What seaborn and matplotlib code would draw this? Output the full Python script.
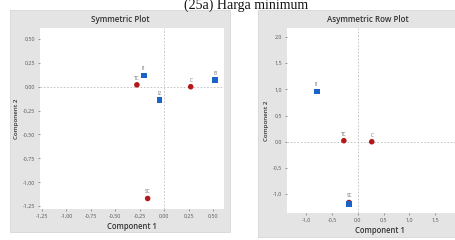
import matplotlib
matplotlib.use("Agg")
import matplotlib.pyplot as plt
import matplotlib.ticker as mticker
from matplotlib.patches import Rectangle
import seaborn as sns
import pandas as pd

sns.set_theme(style="white")
plt.rcParams['font.family'] = ['Open Sans', 'DejaVu Sans']

# Symmetric plot data
sym_labels = ["I1", "TC", "I2", "C", "I3", "SC"]
sym_x = [-0.21, -0.28, -0.05, 0.27, 0.52, -0.17]
sym_y = [0.12, 0.02, -0.14, 0.00, 0.07, -1.17]
sym_type = ["row", "col", "row", "col", "row", "col"]

# Asymmetric row plot data
asy_labels = ["I1", "TC", "C", "SC", ""]
asy_x = [-0.79, -0.27, 0.27, -0.17, -0.17]
asy_y = [0.96, 0.02, 0.00, -1.16, -1.19]
asy_type = ["row", "col", "col", "col", "row"]

x_ticks_sym = [-1.25, -1.00, -0.75, -0.50, -0.25, 0.00, 0.25, 0.50]
y_ticks_sym = [0.50, 0.25, 0.00, -0.25, -0.50, -0.75, -1.00, -1.25]
x_ticks_asy = [-1.0, -0.5, 0.0, 0.5, 1.0, 1.5]
y_ticks_asy = [2.0, 1.5, 1.0, 0.5, 0.0, -0.5, -1.0]

BLUE = "#1b63c6"
RED = "#b3191b"
PANEL = "#e4e4e4"

fig = plt.figure(figsize=(4.56, 2.40), dpi=100)
fig.patch.set_facecolor("white")

# gray panels
fig.patches.append(Rectangle((10/456, 1-232/240), 220/456, 222/240, transform=fig.transFigure,
                             facecolor=PANEL, edgecolor="#d0d0d0", lw=0.5, zorder=-5))
fig.patches.append(Rectangle((258/456, 1-237/240), 230/456, 227/240, transform=fig.transFigure,
                             facecolor=PANEL, edgecolor="#d0d0d0", lw=0.5, zorder=-5))

fig.text(246/456, 1-9/240, "(25a) Harga minimum", ha="center", va="baseline",
         fontsize=10, family=["Liberation Serif", "DejaVu Serif"], color="#111111")

ax1 = fig.add_axes([40/456, 1-209/240, 184/456, 181/240])
ax2 = fig.add_axes([287/456, 1-213/240, 185/456, 185/240])

def fmt(dec):
    return mticker.FuncFormatter(lambda v, p: (f"{v:.{dec}f}").replace(".", ","))

def draw(ax, xs, ys, labs, types, xlim, ylim, xt, yt, dec, title, title_x):
    df = pd.DataFrame({"x": xs, "y": ys, "label": labs, "type": types})
    ax.axhline(0, color="#bdbdbd", lw=0.6, ls=(0, (2, 2)), zorder=1)
    ax.axvline(0, color="#bdbdbd", lw=0.6, ls=(0, (2, 2)), zorder=1)
    sns.scatterplot(data=df, x="x", y="y", hue="type", style="type",
                    palette={"row": BLUE, "col": RED}, markers={"row": "s", "col": "o"},
                    s=16, edgecolor="none", legend=False, ax=ax, zorder=3)
    for _, r in df.iterrows():
        if r["label"]:
            ax.annotate(r["label"], (r["x"], r["y"]), xytext=(0, 3), textcoords="offset points",
                        ha="center", va="bottom", fontsize=3.4, color="#666666")
    ax.set_xlim(*xlim)
    ax.set_ylim(*ylim)
    ax.set_xticks(xt)
    ax.set_yticks(yt)
    ax.xaxis.set_major_formatter(fmt(dec))
    ax.yaxis.set_major_formatter(fmt(dec))
    ax.tick_params(axis="both", labelsize=3.9, colors="#555555", length=1.5, width=0.4, pad=2,
                   bottom=True, left=True)
    for s in ax.spines.values():
        s.set_visible(False)
    ax.set_facecolor("white")
    ax.set_xlabel("Component 1", fontsize=5.5, color="#333333", fontweight="semibold", labelpad=2)
    ax.set_ylabel("Component 2", fontsize=4.5, color="#333333", fontweight="semibold", labelpad=3)
    fig.text(title_x, 1-20/240, title, ha="center", va="center", fontsize=5.8,
             color="#333333", fontweight="semibold")

draw(ax1, sym_x, sym_y, sym_labels, sym_type, (-1.27, 0.61), (-1.28, 0.615),
     x_ticks_sym, y_ticks_sym, 2, "Symmetric Plot", 120/456)
draw(ax2, asy_x, asy_y, asy_labels, asy_type, (-1.37, 2.21), (-1.36, 2.17),
     x_ticks_asy, y_ticks_asy, 1, "Asymmetric Row Plot", 368/456)

fig.savefig("out.png", dpi=100, facecolor="white")
